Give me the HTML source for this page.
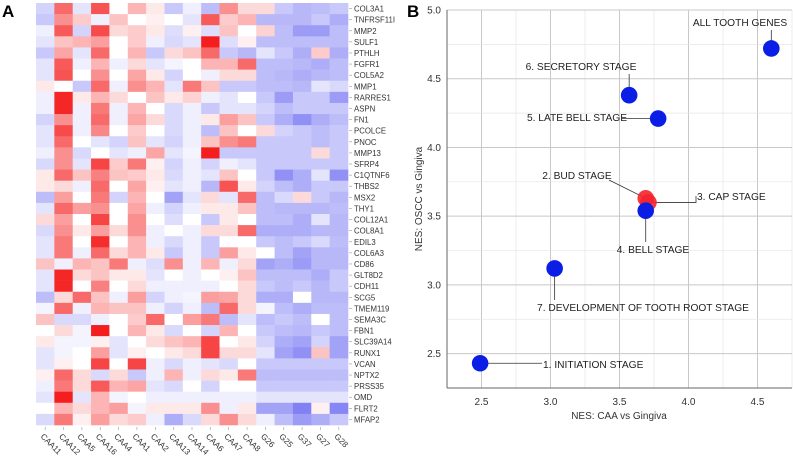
<!DOCTYPE html>
<html><head><meta charset="utf-8">
<style>
html,body{margin:0;padding:0;background:#fff;}
body{width:793px;height:457px;overflow:hidden;font-family:"Liberation Sans",sans-serif;}
svg text{font-family:"Liberation Sans",sans-serif;}
</style></head>
<body>
<svg id="fig" width="793" height="457" viewBox="0 0 793 457" xmlns="http://www.w3.org/2000/svg">
<text x="2" y="17" font-size="17" font-weight="bold">A</text>
<text x="407" y="17" font-size="17" font-weight="bold">B</text>
<g id="heat"></g>
<g id="scat"></g>
</svg>
<script>
const genes=["COL3A1","TNFRSF11I","MMP2","SULF1","PTHLH","FGFR1","COL5A2","MMP1","RARRES1","ASPN","FN1","PCOLCE","PNOC","MMP13","SFRP4","C1QTNF6","THBS2","MSX2","THY1","COL12A1","COL8A1","EDIL3","COL6A3","CD86","GLT8D2","CDH11","SCG5","TMEM119","SEMA3C","FBN1","SLC39A14","RUNX1","VCAN","NPTX2","PRSS35","OMD","FLRT2","MFAP2"];
const samples=["CAA11","CAA12","CAA5","CAA16","CAA4","CAA1","CAA2","CAA13","CAA14","CAA6","CAA7","CAA8","G26","G25","G37","G27","G28"];
const heatValues=[
[-0.8,2,-0.5,2.3,0,1,0.3,-1,-0.3,-1.2,1.5,0.5,0.5,-1,-1.3,-1.2,-1],
[-1,1.5,0.7,-0.3,0.8,0,0.2,0,-0.5,2.2,0.7,1,-1.3,-1.3,-1.3,-1,-1.5],
[-0.3,2.2,-0.8,2.4,0.5,0.7,0.3,-0.6,0.2,-0.6,0.8,0,0.6,-1.2,-1.8,-1.8,-1.2],
[-0.5,0.8,1,1.3,0,0.7,-0.3,-0.7,-0.5,3,-0.6,0.2,-1.2,-1.2,-1.2,-1.2,-1.2],
[-1,1.2,-0.5,2,0,1,-1,0.5,0.8,2,-1,-1.3,-0.5,-1,-1.5,0.7,-1.5],
[-0.5,2.2,-0.3,1,-0.3,0.5,-0.5,-0.2,0,1,1,2,-1.2,-1.2,-1.3,-1.5,-1.2],
[-0.5,2.3,0,1.5,0,1.2,0.3,-0.8,0,-0.3,0.5,0.5,-1.2,-1.3,-1.5,-1.3,-1.2],
[0.3,0,-1,2,-0.3,1.5,1,-0.5,1.8,0.8,-1,-1,-1.2,-1.2,-1.3,-0.5,-0.7],
[-0.3,2.9,0.3,1,0.5,0,0.8,0.3,0.6,-0.3,-0.5,0,-1,-1.8,-1,-1,-1.8],
[-0.3,2.9,-0.3,1.8,-0.3,1,0,-0.7,-0.3,-1,-0.5,-0.5,-0.8,-1.2,-1,-1,-1],
[-0.8,1.5,-0.3,2,-0.3,1.2,0.5,-0.7,-0.3,0.3,1.3,0.8,-1,-1.5,-2,-1.5,-1.2],
[-0.5,2.4,-0.3,1.6,0,0.7,0,-0.7,-0.3,-1.2,0.8,0,0.5,-0.8,-1,-1.2,-1],
[-0.5,2,0,-0.5,-0.8,0.8,-0.5,-0.8,-0.3,0.8,1.5,1.8,-1,-1,-1,-1.2,-1],
[-0.3,1.5,-0.7,0,-0.5,-0.3,1.2,-0.5,-0.2,3,-1,-1,-1,-1,-1,0.5,-1],
[-0.7,1.5,-0.5,2.5,0.7,1.8,0.2,-0.8,-0.3,-0.8,-0.3,-0.5,-1,-1,-1,-1,-1],
[0.3,2,0.8,1.7,0.8,0.7,0.3,-0.7,-0.3,-0.5,0.8,0,-1,-2,-1.5,-0.5,-2],
[0.3,0.5,-0.3,2,0,1.2,0.2,-0.5,-0.3,-1.3,2.3,0.3,-0.8,-1.2,-1.5,-1,-1],
[-1.2,1.3,0,1.8,-0.8,1,0,-1.7,-0.5,0.5,-0.5,2,-1.2,-0.7,0.5,-1,-1.3],
[-0.5,2,1.3,1.5,0,1.2,-0.3,-0.8,-0.3,0.3,0.3,0.8,-1.2,-1.3,-1.3,-1.3,-1.2],
[0.5,1.3,0,2.5,0,1.5,0,-0.6,0,-1,0.3,0,-1.2,-1.2,-1.5,-0.5,-1.3],
[-0.7,1.5,0.3,1.3,0.5,1.5,-0.3,0,-0.3,0.5,0.5,2,-1.5,-1.5,-1.5,-1.3,-1.3],
[-0.5,1.8,0,2.8,0,1,-0.3,-0.7,-0.3,-1,0,0,-1,-1.2,-1,-0.7,-1.2],
[-0.5,1.8,-0.3,2,0.5,1,0.3,-1,-0.3,-1,1.3,0.3,0,-1.2,-1.7,-1.3,-1.3],
[0.8,-0.3,1,0.8,1.8,-0.3,-0.6,1.5,-0.3,1,-0.3,0.5,-1.7,-1.5,-1.8,-1.3,-1.3],
[-0.5,2.9,0.5,0.8,0.3,0.3,-0.5,0,-0.3,0,0.2,0.8,-1.2,-1.2,-1.2,-1.5,-1],
[-0.5,2.9,0,1.7,0,0.5,-0.3,-0.3,-0.3,-0.3,0,0.5,-1,-1.2,-1,-1.3,-1],
[-1.2,0.5,2,0.8,-0.3,1.3,-0.8,-0.3,-0.2,1.3,1.2,0.5,-1.5,-1.5,0,-1.3,-1.3],
[-0.2,2,-0.3,1,0.8,0.8,-0.3,-0.8,-0.3,-1.2,2,0.5,-0.2,-1.2,-1.5,-1.2,-1.2],
[0.8,-0.7,-0.7,-0.3,0,0.7,2,0,1.3,1.8,-1.2,-0.5,-1.2,-1,-1.2,0,-1.2],
[0,0.5,-0.2,3,0,1,0.3,-0.7,0,-0.8,1,0,-1,-1.2,-1.3,-1,-1.2],
[0.3,-0.2,-0.2,0.2,-0.5,0,0.5,0.8,1,2.5,0,0.3,-0.8,-1.5,-1.7,-0.8,-1.7],
[-0.5,-0.2,0,1.3,-0.5,0.2,0,0.3,0.5,2.5,0.5,0.5,-0.5,-1.7,-2,0.8,-1.7],
[-0.5,0.2,0,2.5,0,2.5,-0.3,-0.7,-0.3,-0.5,-0.7,0,-1,-1,-1,-1,-1],
[0.2,2,0.5,-0.7,0.5,-1,-0.3,1,-0.3,0.5,0.3,1.8,-1.2,-1.2,-1.2,-1.2,-1.2],
[-0.3,1.8,0.5,2.2,1,1.2,-0.5,-0.7,0,-0.8,0,0,-1,-1,-1,-1,-1],
[-0.5,3.2,-0.5,1,-0.2,0,-0.3,-0.3,-0.3,-0.3,-0.3,-0.3,-0.5,-0.5,-0.5,-0.5,-0.5],
[0,1,0.5,1,1.3,-0.2,0.3,0.3,0.3,1.5,-0.3,0.3,-1.7,-1.7,-2.3,0.2,-2.2],
[-0.7,1.8,0.2,1.3,0.5,0.7,-0.3,-1.5,-0.7,0.5,1.5,0.5,-0.3,-1.2,-1.8,-1.5,-1]
];
// scatter data
const stageNames=["ALL TOOTH GENES","6. SECRETORY STAGE","5. LATE BELL STAGE","2. BUD STAGE","3. CAP STAGE","4. BELL STAGE","7. DEVELOPMENT OF TOOTH ROOT STAGE","1. INITIATION STAGE"];
const nesCAA=[4.6,3.57,3.78,3.69,3.71,3.69,3.03,2.49];
const nesOSCC=[4.72,4.38,4.21,3.63,3.60,3.54,3.12,2.43];
const isRed=[false,false,false,true,true,false,false,false];
const xTicks=[2.5,3.0,3.5,4.0,4.5];
const yTicks=[2.5,3.0,3.5,4.0,4.5,5.0];

const NS="http://www.w3.org/2000/svg";
function mk(tag,attrs,parent){const e=document.createElementNS(NS,tag);for(const k in attrs)e.setAttribute(k,attrs[k]);parent.appendChild(e);return e;}
function color(v){const t=Math.min(Math.abs(v)/3,1);
 if(v>=0){return `rgb(${Math.round(255-10*t)},${Math.round(255-225*t)},${Math.round(255-225*t)})`;}
 return `rgb(${Math.round(255-165*t)},${Math.round(255-165*t)},${Math.round(255-15*t)})`;}
// heatmap
const H=document.getElementById('heat');
const hx0=36,hy0=3,cw=(348-36)/17,ch=(425-3)/38;
heatValues.forEach((row,r)=>{row.forEach((v,c)=>{
 const el=mk('rect',{x:hx0+c*cw,y:hy0+r*ch,width:cw+0.3,height:ch+0.3,fill:color(v)},H);
 
 
});});
genes.forEach((g,r)=>{
 const y=hy0+(r+0.5)*ch;
 const l=mk('line',{x1:349,x2:352,y1:y,y2:y,stroke:'#999','stroke-width':0.6},H);
 
 
 const t=mk('text',{x:354,y:y+3,'font-size':7.8,fill:'#333'},H);t.textContent=g;
 
 
});
samples.forEach((s,c)=>{
 const x=hx0+(c+0.5)*cw;
 const l=mk('line',{x1:x,x2:x,y1:427,y2:430,stroke:'#999','stroke-width':0.6},H);
 
 
 const t=mk('text',{x:x-5,y:437,'font-size':8.2,fill:'#333',transform:`rotate(45 ${x-5} 437)`},H);t.textContent=s;
 
 
});
// scatter
const S=document.getElementById('scat');
const px0=447,px1=792,py0=10,py1=388,xmin=2.25,xmax=4.75,ymin=2.25,ymax=5.0;
const X=v=>px0+(v-xmin)/(xmax-xmin)*(px1-px0);
const Y=v=>py1-(v-ymin)/(ymax-ymin)*(py1-py0);
for(let v=2.25;v<=4.76;v+=0.25){const x=X(v);const major=Math.abs(v*2-Math.round(v*2))<1e-6;
 const l=mk('line',{x1:x,x2:x,y1:py0,y2:py1,stroke:major?'#c8c8c8':'#e6e6e6','stroke-width':major?1:0.7},S);
 }
for(let v=2.25;v<=5.01;v+=0.25){const y=Y(v);const major=Math.abs(v*2-Math.round(v*2))<1e-6;
 const l=mk('line',{x1:px0,x2:px1,y1:y,y2:y,stroke:major?'#c8c8c8':'#e6e6e6','stroke-width':major?1:0.7},S);
 }
const ax=mk('line',{x1:px0,x2:px0,y1:py0,y2:py1,stroke:'#666'},S);

const ax2=mk('line',{x1:px0,x2:px1,y1:py1,y2:py1,stroke:'#666'},S);

xTicks.forEach(v=>{const t=mk('text',{x:X(v),y:405,'font-size':10,fill:'#333','text-anchor':'middle'},S);t.textContent=v.toFixed(1);
 });
yTicks.forEach(v=>{const t=mk('text',{x:441,y:Y(v)+3.5,'font-size':10,fill:'#333','text-anchor':'end'},S);t.textContent=v.toFixed(1);
 });
const xt=mk('text',{x:619,y:419,'font-size':10,fill:'#333','text-anchor':'middle'},S);xt.textContent='NES: CAA vs Gingiva';

const yt=mk('text',{x:0,y:0,'font-size':10,fill:'#333','text-anchor':'middle',transform:'translate(422 199) rotate(-90)'},S);yt.textContent='NES: OSCC vs Gingiva';

const lab=[
 {tx:740,ty:26,a:'middle',ln:(x,y)=>`M${x},${y} L${x},30`},
 {tx:581,ty:70,a:'middle',ln:(x,y)=>`M${x},${y} L${x},74`},
 {tx:577,ty:121,a:'middle',ln:(x,y)=>`M${x},${y} L622,${y}`},
 {tx:577,ty:179,a:'middle',ln:(x,y)=>`M${x},${y} L609,180`},
 {tx:697,ty:200,a:'start',ln:(x,y)=>`M${x},${y} L696,${y} L696,196`},
 {tx:653,ty:253,a:'middle',ln:(x,y)=>`M${x},${y} L${x},242`},
 {tx:643,ty:311,a:'middle',ln:(x,y)=>`M${x},${y} L${x},300`},
 {tx:543,ty:368,a:'start',ln:(x,y)=>`M${x},${y} L542,${y}`}
];
nesCAA.forEach((v,i)=>{const x=X(v),y=Y(nesOSCC[i]);
 const p=mk('path',{d:lab[i].ln(x,y),stroke:'#333','stroke-width':0.8,fill:'none'},S);
 });
nesCAA.forEach((v,i)=>{const c=mk('circle',{cx:X(v),cy:Y(nesOSCC[i]),r:8.3,fill:isRed[i]?'#f5222d':'#0a1ee6','fill-opacity':isRed[i]?0.9:1},S);
 });
stageNames.forEach((n,i)=>{const t=mk('text',{x:lab[i].tx,y:lab[i].ty,'font-size':10.2,fill:'#222','text-anchor':lab[i].a},S);t.textContent=n;
 });
</script>
</body></html>
